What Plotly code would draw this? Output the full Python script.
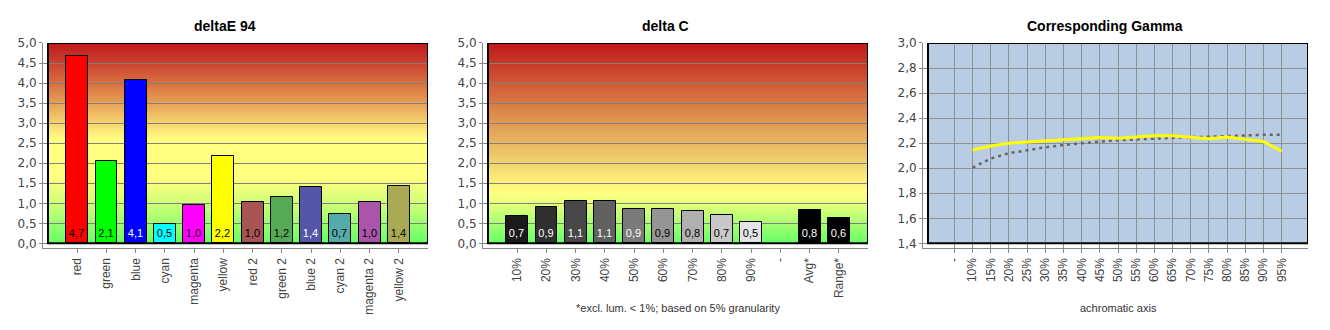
import base64, struct, zlib
import plotly.graph_objects as go

# ---------------- data ----------------
de_categories = ["red", "green", "blue", "cyan", "magenta", "yellow",
                 "red 2", "green 2", "blue 2", "cyan 2", "magenta 2", "yellow 2"]
de_values = [4.67, 2.06, 4.07, 0.48, 0.96, 2.17, 1.03, 1.16, 1.41, 0.73, 1.03, 1.43]
de_colors = ["#ff0000", "#00ff00", "#0000ff", "#00ffff", "#ff00ff", "#ffff00",
             "#a85454", "#55aa55", "#5555aa", "#55aaaa", "#aa55aa", "#aaaa55"]
de_text_colors = ["black", "black", "white", "black", "black", "black",
                  "black", "black", "white", "black", "black", "black"]

dc_categories = ["10%", "20%", "30%", "40%", "50%", "60%", "70%", "80%", "90%", "-", "Avg*", "Range*"]
dc_values = [0.68, 0.92, 1.06, 1.07, 0.87, 0.87, 0.80, 0.70, 0.53, None, 0.84, 0.63]
dc_colors = ["#1a1a1a", "#303030", "#484848", "#606060", "#7a7a7a", "#959595",
             "#b0b0b0", "#c8c8c8", "#e4e4e4", "#ffffff", "#000000", "#000000"]
dc_text_colors = ["white", "white", "white", "white", "white", "black",
                  "black", "black", "black", "black", "white", "white"]

gm_categories = ["-", "10%", "15%", "20%", "25%", "30%", "35%", "40%", "45%", "50%",
                 "55%", "60%", "65%", "70%", "75%", "80%", "85%", "90%", "95%"]
gm_points = gm_categories[1:]
gm_measured = [2.146, 2.177, 2.200, 2.210, 2.218, 2.230, 2.238, 2.246, 2.240, 2.249,
               2.260, 2.260, 2.246, 2.236, 2.249, 2.233, 2.213, 2.136]
gm_reference = [2.005, 2.077, 2.120, 2.146, 2.167, 2.185, 2.200, 2.213, 2.223, 2.231,
                2.236, 2.244, 2.249, 2.251, 2.257, 2.259, 2.267, 2.267]

# ---------------- helpers ----------------
W, H = 1330, 330


def hex2rgb(h):
    h = h.lstrip("#")
    return tuple(int(h[i:i + 2], 16) for i in (0, 2, 4))


def gradient_png(stops, vmax, rows=412, cols=4):
    """Vertical gradient PNG, top row = vmax, bottom row = 0."""
    stops = sorted((v, hex2rgb(c)) for v, c in stops)
    raw = b""
    for r in range(rows):
        v = vmax * (1 - (r + 0.5) / rows)
        for i in range(len(stops) - 1):
            if stops[i][0] <= v <= stops[i + 1][0]:
                a, ca = stops[i]
                b, cb = stops[i + 1]
                t = 0 if b == a else (v - a) / (b - a)
                rgb = tuple(int(round(ca[k] + (cb[k] - ca[k]) * t)) for k in range(3))
                break
        else:
            rgb = stops[-1][1]
        raw += b"\x00" + bytes(rgb) * cols

    def chunk(t, d):
        return struct.pack(">I", len(d)) + t + d + struct.pack(">I", zlib.crc32(t + d) & 0xffffffff)

    png = b"\x89PNG\r\n\x1a\n"
    png += chunk(b"IHDR", struct.pack(">IIBBBBB", cols, rows, 8, 2, 0, 0, 0))
    png += chunk(b"IDAT", zlib.compress(raw, 9))
    png += chunk(b"IEND", b"")
    return "data:image/png;base64," + base64.b64encode(png).decode()


LEFT_STOPS = [(0, "#66ff66"), (0.5, "#9cff70"), (1.0, "#d0ff78"), (1.6, "#ffff80"),
              (2.6, "#ffff80"), (3.0, "#f6d470"), (3.5, "#e6a055"), (4.0, "#d8703f"),
              (4.5, "#ca4230"), (5.0, "#c0181a")]
MID_STOPS = [(0, "#66ff66"), (0.5, "#a8ff72"), (1.0, "#e8ff7c"), (1.25, "#ffff80"),
             (1.5, "#fff27c"), (2.0, "#f2d470"), (3.0, "#e09a54"), (4.0, "#d05a36"),
             (5.0, "#c0181a")]


def fmt(v):
    return "" if v is None else f"{v:.1f}".replace(".", ",")


GAP = 5  # px between frame and axis lines
FRAME_TOP, FRAME_BOT = 37, 243
frames_x = [(48, 428), (488, 868), (928, 1308)]

ydom = [(H - FRAME_BOT - GAP) / H, (H - FRAME_TOP) / H]


def xdom(i):
    l, r = frames_x[i]
    return [(l - GAP) / W, r / W]


tick_font_y = dict(family="DejaVu Sans", size=12, color="#444444")
tick_font_x = dict(family="Liberation Sans, Arial", size=12, color="#444444")

fig = go.Figure()

# ---- bar charts ----
n = len(de_categories)
unit_bar = (frames_x[0][1] - frames_x[0][0]) / (n + 1)
bar_xrange = [-1 - GAP / unit_bar, n]
bar_yrange = [-GAP * 5 / (FRAME_BOT - FRAME_TOP), 5]

for k, (cats, vals, cols, tcols) in enumerate([
        (de_categories, de_values, de_colors, de_text_colors),
        (dc_categories, dc_values, dc_colors, dc_text_colors)]):
    xs = "x" if k == 0 else "x2"
    ys = "y" if k == 0 else "y2"
    fig.add_trace(go.Bar(
        x=list(range(len(cats))), y=vals, width=0.75,
        marker=dict(color=cols, line=dict(color="black", width=1)),
        text=[fmt(v) for v in vals], textposition="inside", insidetextanchor="start",
        textfont=dict(family="Liberation Sans, Arial", size=11, color=tcols),
        constraintext="none", textangle=0,
        xaxis=xs, yaxis=ys, showlegend=False, hoverinfo="skip"))

# ---- gamma chart ----
gm_x = [gm_categories.index(c) for c in gm_points]
fig.add_trace(go.Scatter(x=gm_x, y=gm_reference, mode="lines",
                         line=dict(color="#666666", width=2.5, dash="3px,4px"),
                         xaxis="x3", yaxis="y3", showlegend=False, hoverinfo="skip"))
fig.add_trace(go.Scatter(x=gm_x, y=gm_measured, mode="lines",
                         line=dict(color="#ffff00", width=3),
                         xaxis="x3", yaxis="y3", showlegend=False, hoverinfo="skip"))

ng = len(gm_categories)
unit_g = (frames_x[2][1] - frames_x[2][0]) / 20.9
g_left = -1.45
g_xrange = [g_left - GAP / unit_g, g_left + 20.9]
g_yrange = [1.4 - GAP * 1.6 / (FRAME_BOT - FRAME_TOP), 3.0]

common_x = dict(showline=True, linecolor="#888888", linewidth=1, ticks="outside",
                ticklen=4, tickcolor="#888888", tickangle=-90, tickfont=tick_font_x,
                zeroline=False, fixedrange=True)
common_y = dict(showline=True, linecolor="#888888", linewidth=1, ticks="outside",
                ticklen=3, tickcolor="#888888", tickfont=tick_font_y, zeroline=False,
                tickformat=".1f", fixedrange=True)

fig.update_layout(
    width=W, height=H, autosize=False,
    margin=dict(l=0, r=0, t=0, b=0),
    paper_bgcolor="white", plot_bgcolor="white",
    separators=", ",
    bargap=0,
    xaxis=dict(domain=xdom(0), range=bar_xrange, tickvals=list(range(n)), ticktext=de_categories,
               showgrid=False, anchor="y", **common_x),
    yaxis=dict(domain=ydom, range=bar_yrange, tick0=0, dtick=0.5, showgrid=True,
               gridcolor="#808080", gridwidth=1, anchor="x", **common_y),
    xaxis2=dict(domain=xdom(1), range=bar_xrange, tickvals=list(range(len(dc_categories))),
                ticktext=dc_categories, showgrid=False, anchor="y2", **common_x),
    yaxis2=dict(domain=ydom, range=bar_yrange, tick0=0, dtick=0.5, showgrid=True,
                gridcolor="#808080", gridwidth=1, anchor="x2", **common_y),
    xaxis3=dict(domain=xdom(2), range=g_xrange, tickvals=list(range(ng)), ticktext=gm_categories,
                showgrid=True, gridcolor="#909090", gridwidth=1, anchor="y3", **common_x),
    yaxis3=dict(domain=ydom, range=g_yrange, tick0=1.4, dtick=0.2, showgrid=True,
                gridcolor="#909090", gridwidth=1, anchor="x3", **common_y),
)

# gradient backgrounds (below grid)
fig.add_layout_image(dict(source=gradient_png(LEFT_STOPS, 5), xref="x", yref="y",
                          x=-1, y=5, sizex=n + 1, sizey=5, xanchor="left", yanchor="top",
                          sizing="stretch", layer="below"))
fig.add_layout_image(dict(source=gradient_png(MID_STOPS, 5), xref="x2", yref="y2",
                          x=-1, y=5, sizex=n + 1, sizey=5, xanchor="left", yanchor="top",
                          sizing="stretch", layer="below"))
fig.add_shape(type="rect", xref="x3", yref="y3", x0=g_left, x1=g_left + 20.9, y0=1.4, y1=3.0,
              fillcolor="#b8cce4", line=dict(width=0), layer="below")

# frames
for xr, yr, x0, x1, y0, y1 in [("x", "y", -1, n, 0, 5), ("x2", "y2", -1, n, 0, 5),
                                ("x3", "y3", g_left, g_left + 20.9, 1.4, 3.0)]:
    fig.add_shape(type="rect", xref=xr, yref=yr, x0=x0, x1=x1, y0=y0, y1=y1,
                  line=dict(color="#000000", width=2), layer="above")

# titles & notes
title_font = dict(family="Liberation Sans, Arial", size=14, color="black")
for txt, cx in [("<b>deltaE 94</b>", 225), ("<b>delta C</b>", 665), ("<b>Corresponding Gamma</b>", 1105)]:
    fig.add_annotation(text=txt, xref="paper", yref="paper", x=cx / W, y=(H - 20) / H,
                       xanchor="center", yanchor="middle", showarrow=False, font=title_font)
note_font = dict(family="Liberation Sans, Arial", size=11, color="#333333")
fig.add_annotation(text="*excl. lum. < 1%; based on 5% granularity", xref="paper", yref="paper",
                   x=678 / W, y=(H - 309) / H, xanchor="center", yanchor="middle",
                   showarrow=False, font=note_font)
fig.add_annotation(text="achromatic axis", xref="paper", yref="paper",
                   x=1118 / W, y=(H - 309) / H, xanchor="center", yanchor="middle",
                   showarrow=False, font=note_font)

fig.write_html("out.html")
